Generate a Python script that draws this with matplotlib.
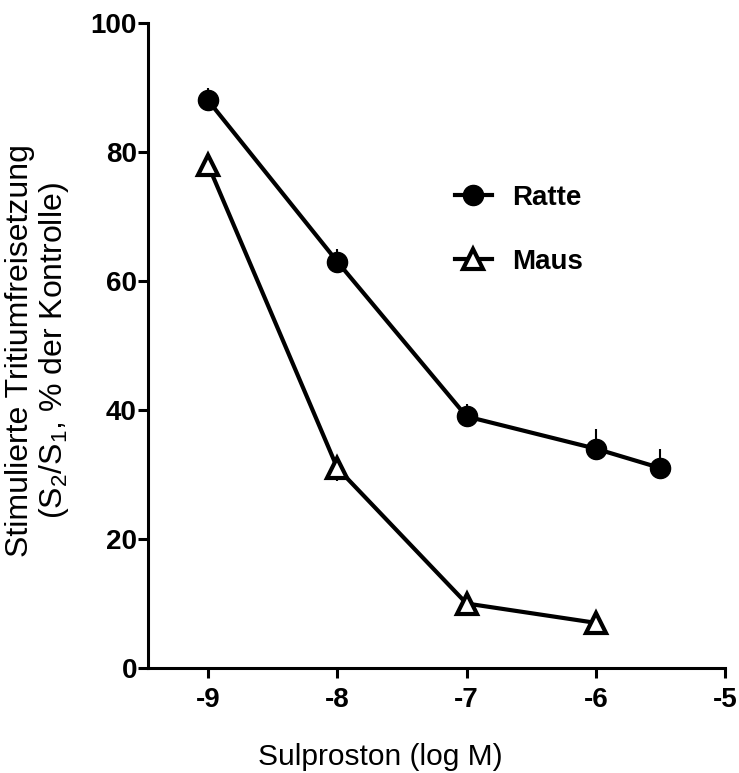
import numpy as np
import matplotlib
matplotlib.use("Agg")
import matplotlib.pyplot as plt

plt.rcParams['font.family'] = ['Liberation Sans', 'DejaVu Sans']
plt.rcParams['mathtext.fontset'] = 'custom'
plt.rcParams['mathtext.rm'] = 'Liberation Sans'
plt.rcParams['mathtext.it'] = 'Liberation Sans:italic'

# Daten
x_ratte = [-9, -8, -7, -6, -5.5]
y_ratte = [88, 63, 39, 34, 31]
err_ratte = [2, 2, 2, 3, 3]

x_maus = [-9, -8, -7, -6]
y_maus = [78, 31, 10, 7]
err_maus = [1, 2, 1, 1]

xticks = [-9, -8, -7, -6, -5]
yticks = [0, 20, 40, 60, 80, 100]

W, H = 739, 773
fig = plt.figure(figsize=(W / 100, H / 100), dpi=100)
ax = fig.add_axes([148 / W, 1 - 668 / H, (725 - 148) / W, (668 - 23) / H])

lw = 3.0
# error bars (up for Ratte, down for Maus)
ax.errorbar(x_ratte, y_ratte, yerr=[np.zeros(len(err_ratte)), err_ratte],
            fmt='none', ecolor='black', elinewidth=1.5, capsize=0, clip_on=False)
ax.errorbar(x_maus, y_maus, yerr=[err_maus, np.zeros(len(err_maus))],
            fmt='none', ecolor='black', elinewidth=1.5, capsize=0, clip_on=False)

ax.plot(x_ratte, y_ratte, '-o', color='black', lw=lw, ms=14.5,
        mfc='black', mec='black', clip_on=False, label='Ratte', zorder=3)
ax.plot(x_maus, y_maus, '-^', color='black', lw=lw, ms=14.5, mew=3,
        mfc='white', mec='black', clip_on=False, label='Maus', zorder=3)

ax.set_xlim(-9.465, -5)
ax.set_ylim(0, 100)
ax.set_xticks(xticks)
ax.set_yticks(yticks)
ax.set_xticklabels([str(t) for t in xticks], fontsize=20, fontweight='bold')
ax.set_yticklabels([str(t) for t in yticks], fontsize=20, fontweight='bold')

for s in ['top', 'right']:
    ax.spines[s].set_visible(False)
for s in ['left', 'bottom']:
    ax.spines[s].set_linewidth(2.2)
ax.tick_params(axis='both', width=2.2, length=7, direction='out')
ax.tick_params(axis='x', pad=7)
ax.tick_params(axis='y', pad=1)

fig.text(38 / W, 1 - 351 / H,
         'Stimulierte Tritiumfreisetzung\n(S$_2$/S$_1$, % der Kontrolle)',
         fontsize=23, rotation=90, ha='center', va='center',
         multialignment='center', linespacing=1.05)
fig.text(380 / W, 1 - 757 / H, 'Sulproston (log M)', fontsize=21.5,
         ha='center', va='center')

leg = ax.legend(loc='upper left', bbox_to_anchor=(455 / W, 1 - 185 / H),
                bbox_transform=fig.transFigure, frameon=False,
                prop={'size': 20, 'weight': 'bold'}, handlelength=1.33,
                handletextpad=0.72, labelspacing=1.36, borderpad=0,
                borderaxespad=0, markerscale=1.0)

fig.savefig('out.png', dpi=100)
